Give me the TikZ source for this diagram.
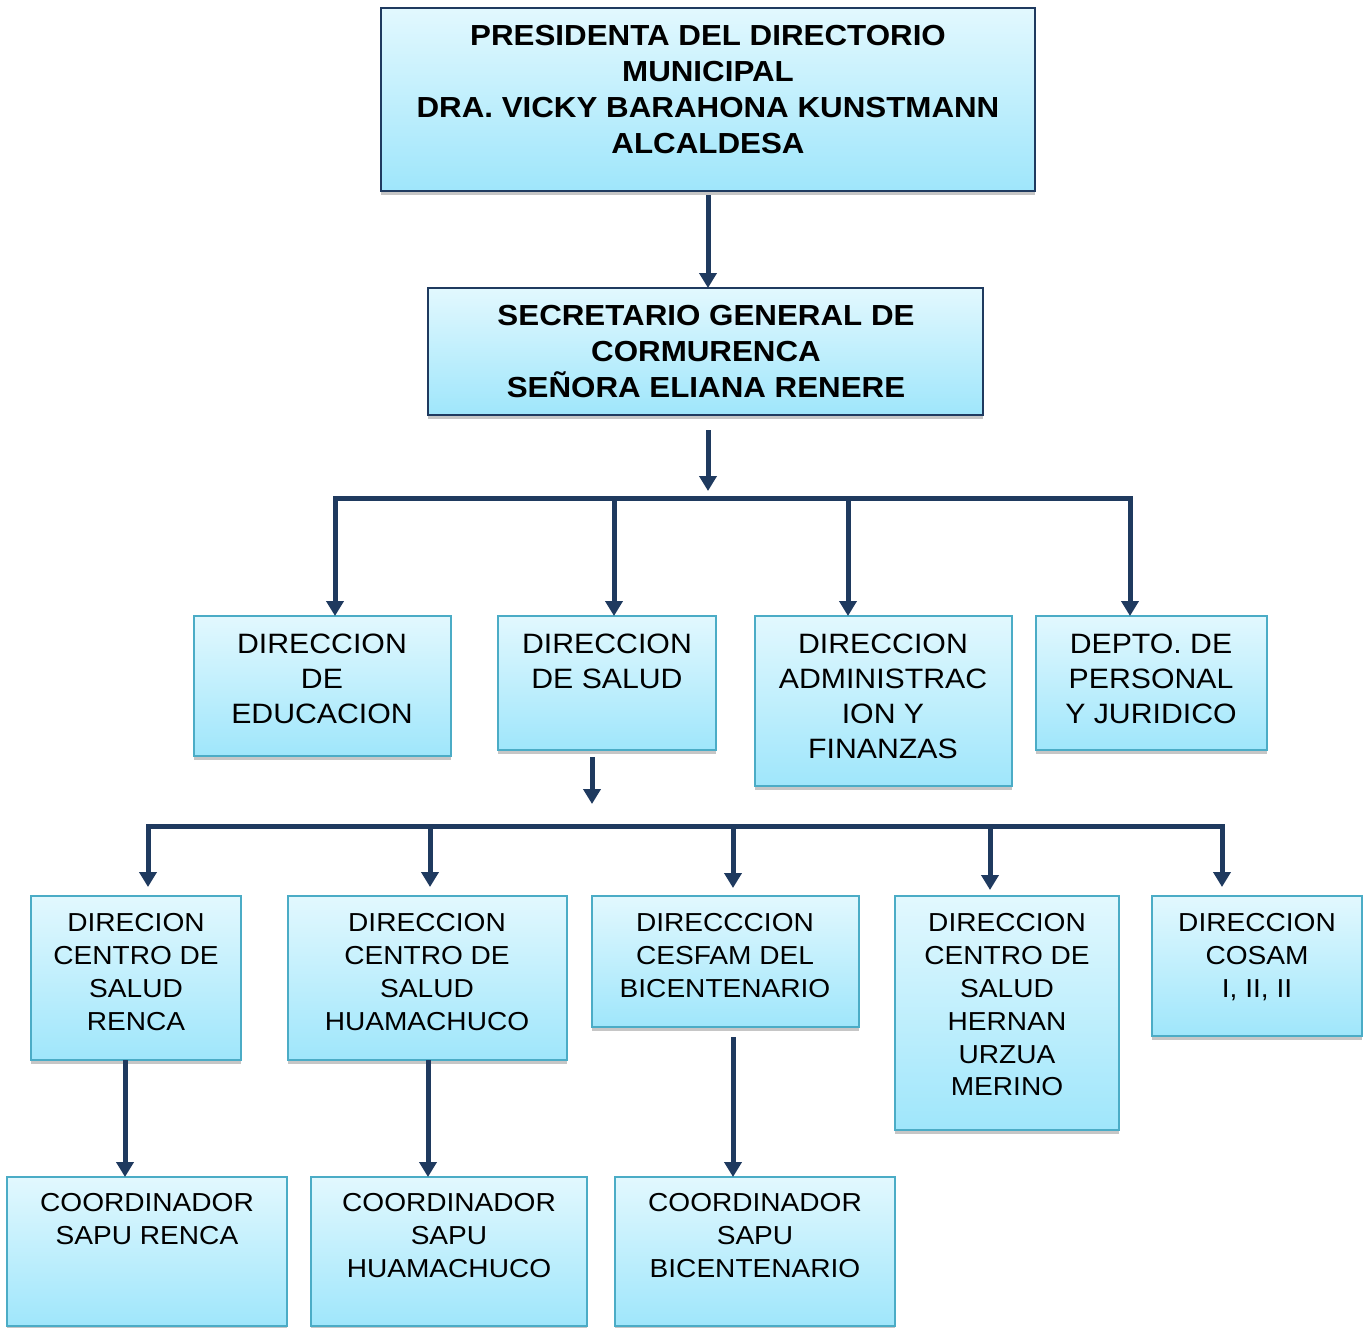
\documentclass[tikz,border=0pt]{standalone}
\usepackage{fontspec}
\setmainfont{Liberation Sans}[FakeStretch=1.08]
\usetikzlibrary{arrows.meta}
\definecolor{navy}{HTML}{1F3A5F}
\definecolor{tealb}{HTML}{4BACC6}
\definecolor{boxtop}{HTML}{E2F8FE}
\definecolor{boxbot}{HTML}{9FE6FB}
\newcommand{\orgfontA}{\bfseries\fontsize{29}{36}\selectfont}
\newcommand{\orgfontB}{\fontsize{28}{35}\selectfont}
\newcommand{\orgfontC}{\fontsize{26}{32.8}\selectfont}
\tikzset{
  box/.style={draw=tealb, line width=1.6pt, top color=boxtop, bottom color=boxbot,
    anchor=north west, inner sep=0pt, outer sep=0pt},
  topbox/.style={box, draw=navy},
  txt/.style={anchor=north, align=center, inner sep=0pt, outer sep=0pt},
  shadowband/.style={fill=gray!45},
  arr/.style={draw=navy, line width=5pt, -{Triangle[width=17pt,length=15pt]}},
  arrtwo/.style={draw=navy, line width=5pt, {Triangle[width=17pt,length=15pt]}-{Triangle[width=17pt,length=15pt]}},
  line/.style={draw=navy, line width=5pt}
}
% name, style, x1, y1, x2, y2
\newcommand{\orgbox}[6]{%
  \fill[shadowband] (#3,#6) rectangle (#5,#6+4);
  \node[#2, minimum width={(#5-#3)*1pt}, minimum height={(#6-#4)*1pt}] (#1) at (#3,#4) {};
}
\begin{document}
\begin{tikzpicture}[x=1pt,y=-1pt]
\useasboundingbox (0,0) rectangle (1366,1328);
\fill[white] (0,0) rectangle (1366,1328);

% boxes
\orgbox{top}{topbox}{381}{8}{1035}{191}
\orgbox{sec}{topbox}{428}{288}{983}{415}
\orgbox{edu}{box}{194}{616}{451}{756}
\orgbox{sal}{box}{498}{616}{716}{750}
\orgbox{adm}{box}{755}{616}{1012}{786}
\orgbox{dep}{box}{1036}{616}{1267}{750}
\orgbox{ren}{box}{31}{896}{241}{1060}
\orgbox{hua}{box}{288}{896}{567}{1060}
\orgbox{bic}{box}{592}{896}{859}{1027}
\orgbox{her}{box}{895}{896}{1119}{1130}
\orgbox{cos}{box}{1152}{896}{1362}{1036}
\orgbox{sapr}{box}{7}{1177}{287}{1326}
\orgbox{saph}{box}{311}{1177}{587}{1326}
\orgbox{sapb}{box}{615}{1177}{895}{1326}

% texts
\node[txt, font=\orgfontA] (top-t) at (708,25.6) {PRESIDENTA DEL DIRECTORIO\\MUNICIPAL\\DRA. VICKY BARAHONA KUNSTMANN\\ALCALDESA};
\node[txt, font=\orgfontA] (sec-t) at (706,305.6) {SECRETARIO GENERAL DE\\CORMURENCA\\SEÑORA ELIANA RENERE};
\node[txt, font=\orgfontB] (edu-t) at (322,634) {DIRECCION\\DE\\EDUCACION};
\node[txt, font=\orgfontB] (sal-t) at (607,634) {DIRECCION\\DE SALUD};
\node[txt, font=\orgfontB] (adm-t) at (883,634) {DIRECCION\\ADMINISTRAC\\ION Y\\FINANZAS};
\node[txt, font=\orgfontB] (dep-t) at (1151,634) {DEPTO. DE\\PERSONAL\\Y JURIDICO};
\node[txt, font=\orgfontC] (ren-t) at (136,913.7) {DIRECION\\CENTRO DE\\SALUD\\RENCA};
\node[txt, font=\orgfontC] (hua-t) at (427,913.7) {DIRECCION\\CENTRO DE\\SALUD\\HUAMACHUCO};
\node[txt, font=\orgfontC] (bic-t) at (725,913.7) {DIRECCCION\\CESFAM DEL\\BICENTENARIO};
\node[txt, font=\orgfontC] (her-t) at (1007,913.7) {DIRECCION\\CENTRO DE\\SALUD\\HERNAN\\URZUA\\MERINO};
\node[txt, font=\orgfontC] (cos-t) at (1257,913.7) {DIRECCION\\COSAM\\I, II, II};
\node[txt, font=\orgfontC] (sapr-t) at (147,1193.7) {COORDINADOR\\SAPU RENCA};
\node[txt, font=\orgfontC] (saph-t) at (449,1193.7) {COORDINADOR\\SAPU\\HUAMACHUCO};
\node[txt, font=\orgfontC] (sapb-t) at (755,1193.7) {COORDINADOR\\SAPU\\BICENTENARIO};

% connectors
\draw[arr] ([yshift=-4pt]top.south) -- (top.south |- sec.north);
\coordinate (secend) at (708,491);
\coordinate (secstart) at (708,430);
\draw[arr] (secstart) -- (secend);

\coordinate (busL) at (335,498);
\coordinate (busR) at (1130,498);
\coordinate (busA) at (614,498);
\coordinate (busB) at (848,498);
\draw[arrtwo] (busL |- edu.north) -- (busL) -- (busR) -- (busR |- dep.north);
\draw[arr] (busA) -- (busA |- sal.north);
\draw[arr] (busB) -- (busB |- adm.north);

\coordinate (salstart) at (592,757);
\coordinate (salend) at (592,804);
\draw[arr] (salstart) -- (salend);

\coordinate (cL) at (148,826);
\coordinate (cR) at (1222,826);
\coordinate (cA) at (430,826);
\coordinate (cB) at (733,826);
\coordinate (cC) at (990,826);
\coordinate (eL) at (148,887);
\coordinate (eR) at (1222,887);
\coordinate (eA) at (430,887);
\coordinate (eB) at (733,888);
\coordinate (eC) at (990,890);
\draw[arrtwo] (eL) -- (cL) -- (cR) -- (eR);
\draw[arr] (cA) -- (eA);
\draw[arr] (cB) -- (eB);
\draw[arr] (cC) -- (eC);

\coordinate (r5) at (125,1060);
\coordinate (h5) at (428,1060);
\coordinate (b5) at (733,1037);
\draw[arr] (r5) -- (r5 |- sapr.north);
\draw[arr] (h5) -- (h5 |- saph.north);
\draw[arr] (b5) -- (b5 |- sapb.north);
\end{tikzpicture}
\end{document}
